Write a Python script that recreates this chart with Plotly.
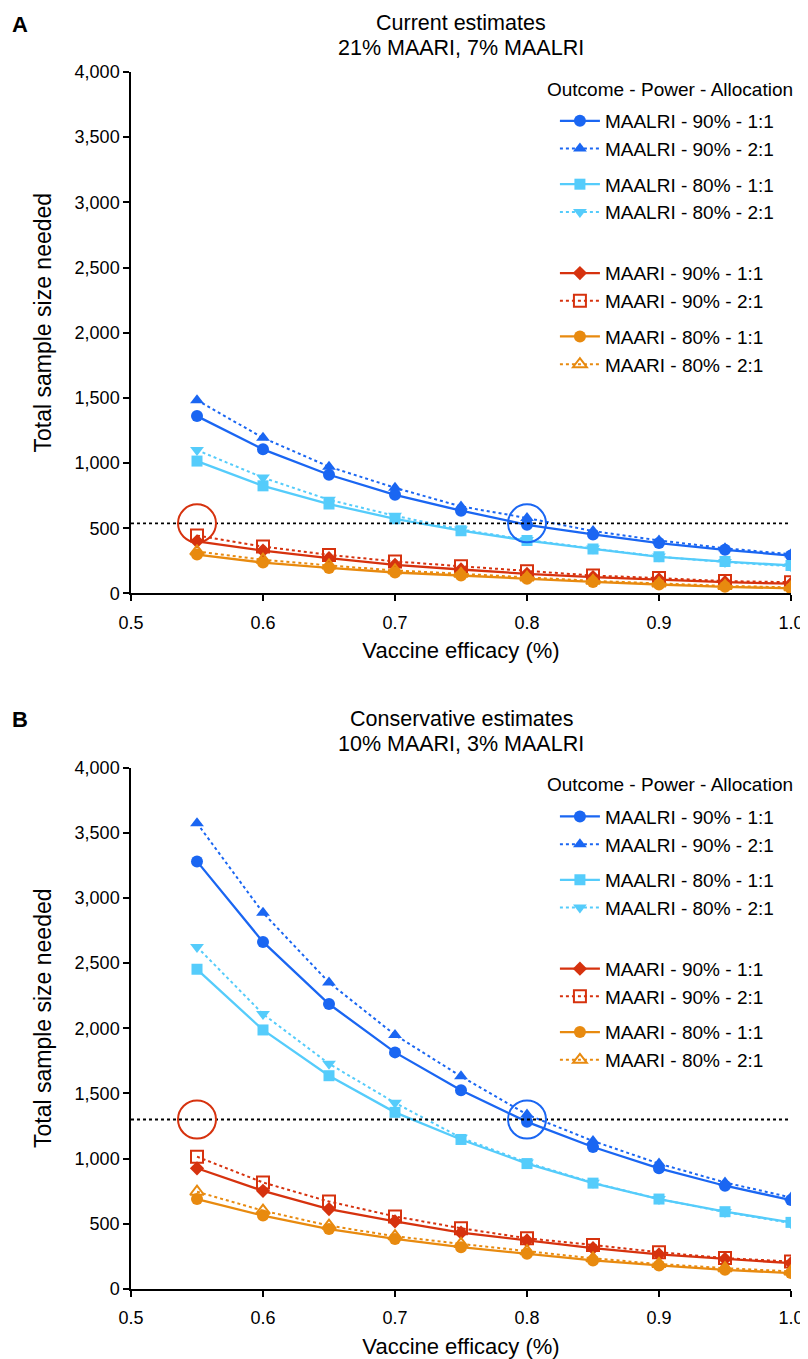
import plotly.graph_objects as go

# ---------------- data ----------------
efficacy = [0.55, 0.60, 0.65, 0.70, 0.75, 0.80, 0.85, 0.90, 0.95, 1.00]

series_names = [
    "MAALRI - 90% - 1:1", "MAALRI - 90% - 2:1",
    "MAALRI - 80% - 1:1", "MAALRI - 80% - 2:1",
    "MAARI - 90% - 1:1", "MAARI - 90% - 2:1",
    "MAARI - 80% - 1:1", "MAARI - 80% - 2:1",
]

# Panel A: current estimates (21% MAARI, 7% MAALRI)
a_maalri_90_11 = [1360, 1105, 910, 756, 634, 526, 452, 386, 334, 290]
a_maalri_90_21 = [1482, 1193, 972, 810, 667, 578, 478, 406, 346, 300]
a_maalri_80_11 = [1015, 825, 685, 572, 481, 405, 341, 280, 244, 214]
a_maalri_80_21 = [1099, 888, 718, 595, 490, 410, 345, 282, 240, 208]
a_maari_90_11 = [399, 328, 270, 219, 183, 150, 125, 107, 86, 74]
a_maari_90_21 = [443, 359, 295, 245, 208, 170, 137, 117, 94, 86]
a_maari_80_11 = [298, 236, 195, 160, 137, 112, 88, 68, 50, 38]
a_maari_80_21 = [322, 258, 214, 176, 150, 122, 96, 76, 57, 46]
a_threshold = 537

# Panel B: conservative estimates (10% MAARI, 3% MAALRI)
b_maalri_90_11 = [3280, 2662, 2186, 1815, 1524, 1282, 1089, 926, 792, 682]
b_maalri_90_21 = [3573, 2886, 2351, 1949, 1631, 1338, 1135, 962, 817, 702]
b_maalri_80_11 = [2452, 1987, 1636, 1355, 1147, 962, 812, 690, 593, 511]
b_maalri_80_21 = [2624, 2109, 1728, 1428, 1160, 970, 815, 690, 590, 505]
b_maari_90_11 = [926, 753, 613, 519, 432, 372, 313, 265, 231, 198]
b_maari_90_21 = [1015, 817, 671, 557, 466, 389, 338, 282, 237, 211]
b_maari_80_11 = [690, 563, 460, 384, 321, 270, 219, 181, 147, 122]
b_maari_80_21 = [746, 601, 486, 405, 346, 290, 235, 192, 160, 135]
b_threshold = 1300

circled_efficacy = [0.55, 0.80]

panel_title_lines = [["Current estimates", "21% MAARI, 7% MAALRI"],
                     ["Conservative estimates", "10% MAARI, 3% MAALRI"]]
panel_letters = ["A", "B"]
x_title_text = "Vaccine efficacy (%)"
y_title_text = "Total sample size needed"
legend_title_text = "Outcome - Power - Allocation"
x_ticks = [0.5, 0.6, 0.7, 0.8, 0.9, 1.0]
y_ticks = [0, 500, 1000, 1500, 2000, 2500, 3000, 3500, 4000]

# ---------------- styles ----------------
BLUE = "#1a66f2"
LBLUE = "#55ccfb"
RED = "#d6320e"
ORANGE = "#e88a0f"
FONT = "Liberation Sans, Arial, Helvetica, sans-serif"

styles = [
    dict(color=BLUE, dash="solid", symbol="circle", size=12),
    dict(color=BLUE, dash="dot", symbol="triangle-up", size=12),
    dict(color=LBLUE, dash="solid", symbol="square", size=11),
    dict(color=LBLUE, dash="dot", symbol="triangle-down", size=12),
    dict(color=RED, dash="solid", symbol="diamond", size=11),
    dict(color=RED, dash="dot", symbol="square-open", size=12),
    dict(color=ORANGE, dash="solid", symbol="circle", size=12),
    dict(color=ORANGE, dash="dot", symbol="triangle-up-open", size=12),
]
groups = ["g1", "g1", "g2", "g2", "g3", "g3", "g4", "g4"]

panels = [
    [a_maalri_90_11, a_maalri_90_21, a_maalri_80_11, a_maalri_80_21,
     a_maari_90_11, a_maari_90_21, a_maari_80_11, a_maari_80_21],
    [b_maalri_90_11, b_maalri_90_21, b_maalri_80_11, b_maalri_80_21,
     b_maari_90_11, b_maari_90_21, b_maari_80_11, b_maari_80_21],
]
thresholds = [a_threshold, b_threshold]

fig = go.Figure()

legend_ids = [["legend", "legend2"], ["legend3", "legend4"]]
for p, data in enumerate(panels):
    xa = "x" if p == 0 else "x2"
    ya = "y" if p == 0 else "y2"
    for i, (name, vals) in enumerate(zip(series_names, data)):
        st = styles[i]
        open_marker = st["symbol"].endswith("open")
        fig.add_trace(go.Scatter(
            x=efficacy, y=vals, name=name, mode="lines+markers",
            xaxis=xa, yaxis=ya,
            legend=legend_ids[p][0 if i < 4 else 1],
            legendgroup=f"p{p}{groups[i]}",
            line=dict(color=st["color"], width=2.3 if st["dash"] == "solid" else 2,
                      dash=st["dash"]),
            marker=dict(symbol=st["symbol"], size=st["size"], color=st["color"],
                        line=dict(width=2 if open_marker else 0, color=st["color"])),
        ))

axis_common = dict(showline=True, linecolor="black", linewidth=1.5,
                   ticks="outside", ticklen=6, tickwidth=1.5, tickcolor="black",
                   showgrid=False, zeroline=False,
                   tickfont=dict(family=FONT, size=18, color="black"))

TOP_DOMAIN = [0.5716, 1.0]
BOT_DOMAIN = [0.0, 0.4285]

xtitle = dict(text=x_title_text, standoff=11, font=dict(size=22))

fig.update_layout(
    width=808, height=1359,
    margin=dict(l=123, r=16, t=64, b=72),
    paper_bgcolor="white", plot_bgcolor="white",
    font=dict(family=FONT, size=19, color="black"),
    xaxis=dict(domain=[0, 1], range=[0.5, 1.0], tickvals=x_ticks, tickformat=".1f",
               anchor="y", title=xtitle, ticklabelstandoff=6, **axis_common),
    yaxis=dict(domain=TOP_DOMAIN, range=[0, 4000], tickvals=y_ticks, tickformat=",",
               anchor="x", **axis_common),
    xaxis2=dict(domain=[0, 1], range=[0.5, 1.0], tickvals=x_ticks, tickformat=".1f",
                anchor="y2", title=xtitle, ticklabelstandoff=6, **axis_common),
    yaxis2=dict(domain=BOT_DOMAIN, range=[0, 4000], tickvals=y_ticks, tickformat=",",
                anchor="x2", **axis_common),
    showlegend=True,
)

leg_common = dict(xanchor="left", yanchor="top", bgcolor="rgba(0,0,0,0)",
                  font=dict(family=FONT, size=19, color="black"),
                  itemwidth=40, tracegroupgap=8, itemclick=False, itemdoubleclick=False)
LEG_X = 0.6423
fig.update_layout(
    legend=dict(x=LEG_X, y=0.9754, **leg_common),
    legend2=dict(x=LEG_X, y=0.8503, **leg_common),
    legend3=dict(x=LEG_X, y=0.4038, **leg_common),
    legend4=dict(x=LEG_X, y=0.2787, **leg_common),
)

shapes = []
annotations = []
for p in range(2):
    xa = "x" if p == 0 else "x2"
    ya = "y" if p == 0 else "y2"
    thr = thresholds[p]
    shapes.append(dict(type="line", xref=xa, yref=ya, x0=0.5, x1=1.0, y0=thr, y1=thr,
                       line=dict(color="black", width=1.8, dash="dot")))
    for ce, col in zip(circled_efficacy, [RED, BLUE]):
        shapes.append(dict(type="circle", xref=xa, yref=ya,
                           xsizemode="pixel", ysizemode="pixel",
                           xanchor=ce, yanchor=thr, x0=-19, x1=19, y0=-19, y1=19,
                           line=dict(color=col, width=2)))
    dom = TOP_DOMAIN if p == 0 else BOT_DOMAIN
    for k, (line_text, shift) in enumerate(zip(panel_title_lines[p], [49, 24])):
        annotations.append(dict(text=line_text, xref="paper", yref="paper",
                                x=0.5, y=dom[1], xanchor="center", yanchor="middle",
                                yshift=shift, showarrow=False,
                                font=dict(family=FONT, size=21.5, color="black")))
    annotations.append(dict(text=legend_title_text, xref="paper", yref="paper",
                            x=(542.7 - 123) / 669, y=dom[1], yshift=-17,
                            xanchor="left", yanchor="middle", showarrow=False,
                            font=dict(family=FONT, size=19, color="black")))
    annotations.append(dict(text="<b>" + panel_letters[p] + "</b>",
                            xref="paper", yref="paper", x=0, y=dom[1],
                            xshift=-121, yshift=48,
                            xanchor="left", yanchor="middle", showarrow=False,
                            font=dict(family=FONT, size=22, color="black")))
    # y-axis title, sitting slightly above the axis centre as in the reference
    annotations.append(dict(text=y_title_text, xref="paper", yref="paper",
                            x=(34 - 123) / 669,
                            y=dom[0] + (dom[1] - dom[0]) * 0.52,
                            xanchor="center", yanchor="middle", textangle=-90,
                            showarrow=False,
                            font=dict(family=FONT, size=23, color="black")))

fig.update_layout(shapes=shapes, annotations=annotations)

fig.write_html("out.html")
